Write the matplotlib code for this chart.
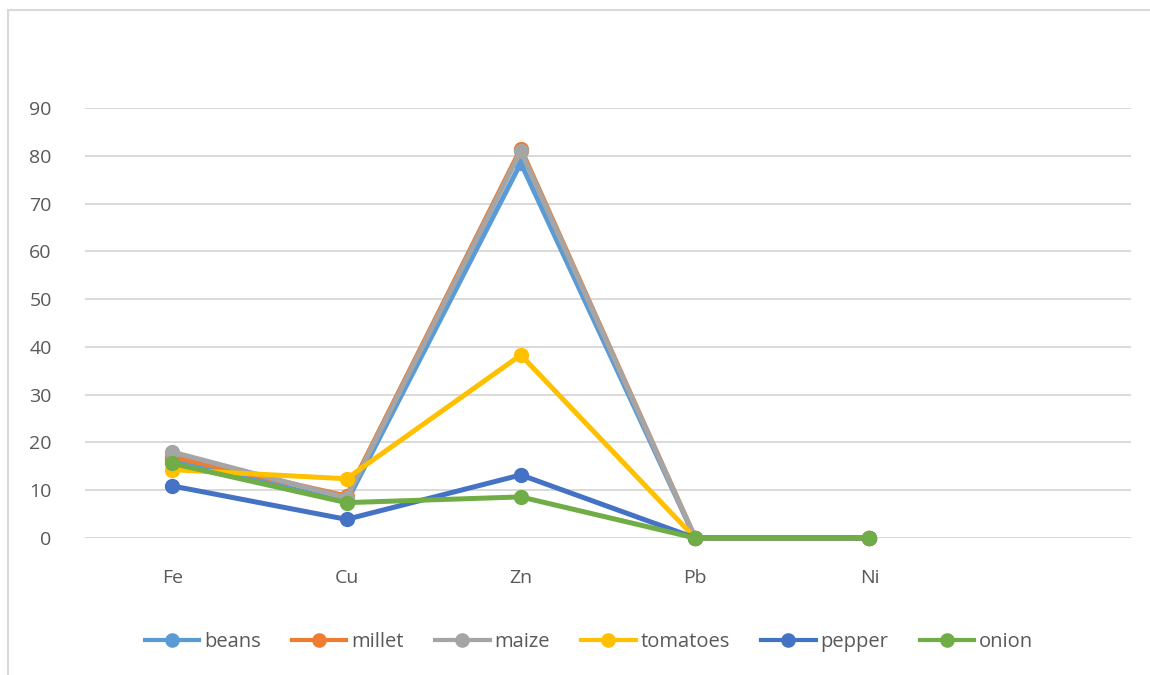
import matplotlib.pyplot as plt
from matplotlib.patches import Rectangle

# Data
elements = ["Fe", "Cu", "Zn", "Pb", "Ni", ""]
beans = [16.5, 7.5, 78.5, 0, 0]
millet = [17.0, 8.8, 81.5, 0, 0]
maize = [18.0, 8.4, 81.0, 0, 0]
tomatoes = [14.3, 12.4, 38.3, 0, 0]
pepper = [10.9, 3.9, 13.2, 0, 0]
onion = [15.6, 7.4, 8.6, 0, 0]

series = [
    ("beans", beans, "#5B9BD5"),
    ("millet", millet, "#ED7D31"),
    ("maize", maize, "#A5A5A5"),
    ("tomatoes", tomatoes, "#FFC000"),
    ("pepper", pepper, "#4472C4"),
    ("onion", onion, "#70AD47"),
]

plt.rcParams["font.family"] = ["Open Sans", "DejaVu Sans"]
text_color = "#595959"

fig = plt.figure(figsize=(11.5, 6.75), dpi=100)
ax = fig.add_axes([85 / 1150, 1 - 538 / 675, (1131 - 85) / 1150, (538 - 108) / 675])

x = list(range(len(beans)))
for name, vals, col in series:
    ax.plot(x, vals, color=col, lw=3.6, marker="o", ms=10, label=name,
            clip_on=False, solid_joinstyle="round", zorder=3)

ax.set_xlim(-0.5, len(elements) - 0.5)
ax.set_ylim(0, 90)
ax.set_yticks(range(0, 91, 10))
ax.set_xticks(range(len(elements)))
ax.set_xticklabels(elements)
ax.grid(axis="y", color="#D9D9D9", lw=1.4)
ax.set_axisbelow(True)
for s in ax.spines.values():
    s.set_visible(False)
ax.tick_params(length=0, labelsize=14, labelcolor=text_color)
ax.tick_params(axis="x", pad=22)
ax.tick_params(axis="y", pad=24)

leg = fig.legend(loc="center", bbox_to_anchor=(589 / 1150, 1 - 642 / 675), ncol=6,
                 frameon=False, fontsize=14.5, handlelength=2.7, columnspacing=1.55,
                 handletextpad=0.25, markerscale=0.95)
for t in leg.get_texts():
    t.set_color(text_color)
for h in leg.legend_handles:
    h.set_linewidth(3.0)

# chart area border
fig.patches.append(Rectangle((8 / 1150, -0.02), 1.05, 1 - 10 / 675 + 0.02,
                             transform=fig.transFigure, fill=False,
                             edgecolor="#D9D9D9", lw=1.5))

fig.savefig("out.png", dpi=100)
